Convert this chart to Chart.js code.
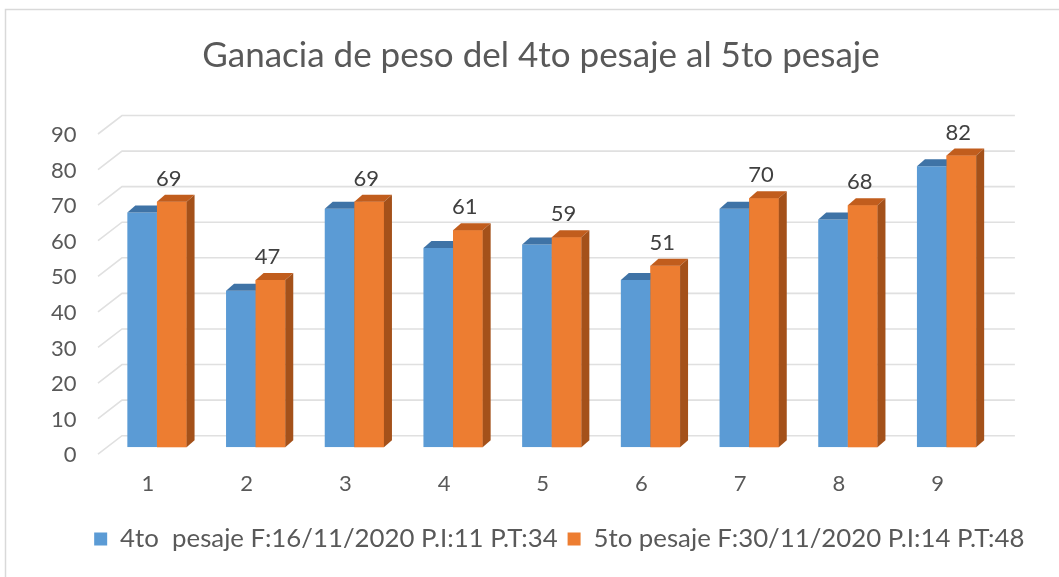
<!DOCTYPE html>
<html>
<head>
<meta charset="utf-8">
<script src="https://cdn.jsdelivr.net/npm/chart.js@4"></script>
<style>
  body { margin: 0; background: #fff; }
  canvas { display: block; }
</style>
</head>
<body>
<canvas id="grafico" width="1059" height="577"></canvas>
<script>
// Datos del gráfico
const categorias = ["1", "2", "3", "4", "5", "6", "7", "8", "9"];
const pesaje4 = [66, 44, 67, 56, 57, 47, 67, 64, 79];
const pesaje5 = [69, 47, 69, 61, 59, 51, 70, 68, 82];
const etiquetas = [
  "4to  pesaje F:16/11/2020 P.I:11 P.T:34",
  "5to pesaje F:30/11/2020 P.I:14 P.T:48"
];
const titulo = "Ganacia de peso del 4to pesaje al 5to pesaje";

const fuente = "Lato, 'Open Sans', sans-serif";
const gris = "#595959";

// profundidad de las barras y de las paredes
const prof = { dx: 8, dy: -7 };
const pared = { frente: 7, fondo: -11.5, izq: -9.6, der: 14.4, fin: 19 };

// Marco del gráfico
const marco = {
  id: "marco",
  beforeDraw(chart) {
    const ctx = chart.ctx;
    ctx.save();
    ctx.strokeStyle = "#d9d9d9";
    ctx.lineWidth = 1.5;
    ctx.strokeRect(5.5, 9.5, 1100, 700);
    ctx.restore();
  }
};

// Paredes con líneas de cuadrícula
const paredes = {
  id: "paredes",
  beforeDatasetsDraw(chart) {
    const ctx = chart.ctx;
    const area = chart.chartArea;
    const y = chart.scales.y;
    ctx.save();
    ctx.strokeStyle = "#e0e0e0";
    ctx.lineWidth = 1.6;
    y.ticks.forEach(t => {
      const py = y.getPixelForValue(t.value);
      ctx.beginPath();
      ctx.moveTo(area.left + pared.izq, py + pared.frente);
      ctx.lineTo(area.left + pared.der, py + pared.fondo);
      ctx.lineTo(area.right + pared.fin, py + pared.fondo);
      ctx.stroke();
    });
    ctx.restore();
  }
};

function caras(ctx, bar, tapa, lado) {
  const p = bar.getProps(["x", "y", "base", "width"], true);
  const x0 = p.x - p.width / 2, x1 = p.x + p.width / 2;
  // cara superior
  ctx.fillStyle = tapa;
  ctx.beginPath();
  ctx.moveTo(x0, p.y);
  ctx.lineTo(x0 + prof.dx, p.y + prof.dy);
  ctx.lineTo(x1 + prof.dx, p.y + prof.dy);
  ctx.lineTo(x1, p.y);
  ctx.closePath();
  ctx.fill();
  // cara lateral
  ctx.fillStyle = lado;
  ctx.beginPath();
  ctx.moveTo(x1, p.y);
  ctx.lineTo(x1 + prof.dx, p.y + prof.dy);
  ctx.lineTo(x1 + prof.dx, p.base + prof.dy);
  ctx.lineTo(x1, p.base);
  ctx.closePath();
  ctx.fill();
}

// Efecto 3D y etiquetas (azul detrás, naranja delante)
const barras3d = {
  id: "barras3d",
  afterDatasetsDraw(chart) {
    const ctx = chart.ctx;
    const azul = chart.getDatasetMeta(0).data;
    const naranja = chart.getDatasetMeta(1).data;
    ctx.save();
    azul.forEach(b => caras(ctx, b, "#3f73a6", "#3a6896"));
    naranja.forEach(b => b.draw(ctx));
    naranja.forEach(b => caras(ctx, b, "#c15d1d", "#a4511a"));
    ctx.fillStyle = "#404040";
    ctx.font = "22px " + fuente;
    ctx.textAlign = "center";
    ctx.textBaseline = "middle";
    naranja.forEach((b, i) => {
      ctx.fillText(String(pesaje5[i]), b.x - 3, b.y - 23);
    });
    ctx.restore();
  }
};

const ctx = document.getElementById("grafico").getContext("2d");
const chart = new Chart(ctx, {
  type: "bar",
  data: {
    labels: categorias,
    datasets: [
      { label: etiquetas[0], data: pesaje4, backgroundColor: "#5b9bd5" },
      { label: etiquetas[1], data: pesaje5, backgroundColor: "#ed7d31" }
    ]
  },
  options: {
    responsive: false,
    animation: false,
    categoryPercentage: 0.6,
    barPercentage: 1,
    layout: { padding: { left: 47.6, right: 24.6, top: 0, bottom: 15 } },
    plugins: {
      title: {
        display: true,
        text: titulo,
        color: gris,
        font: { family: fuente, size: 35, weight: "normal" },
        padding: { top: 35, bottom: 50 }
      },
      legend: {
        position: "bottom",
        align: "end",
        labels: {
          color: gris,
          font: { family: fuente, size: 25.8 },
          boxWidth: 13,
          boxHeight: 13,
          padding: 10
        }
      },
      tooltip: { enabled: false }
    },
    scales: {
      x: {
        grid: { display: false, drawTicks: false },
        border: { display: false },
        ticks: { color: gris, font: { family: fuente, size: 22 }, padding: 24, labelOffset: -9 },
        afterFit(s) { s.height = 69; }
      },
      y: {
        min: 0,
        max: 90,
        grid: { display: false, drawTicks: false },
        border: { display: false },
        ticks: { stepSize: 10, color: gris, font: { family: fuente, size: 22 }, padding: 31, labelOffset: 8 },
        afterFit(s) { s.width = 60; }
      },
      // espacio vacío a la derecha (como en el original)
      y2: {
        position: "right",
        grid: { display: false, drawTicks: false },
        border: { display: false },
        ticks: { display: false },
        afterFit(s) { s.width = 38.5; }
      }
    }
  },
  plugins: [marco, paredes, barras3d]
});
</script>
</body>
</html>
